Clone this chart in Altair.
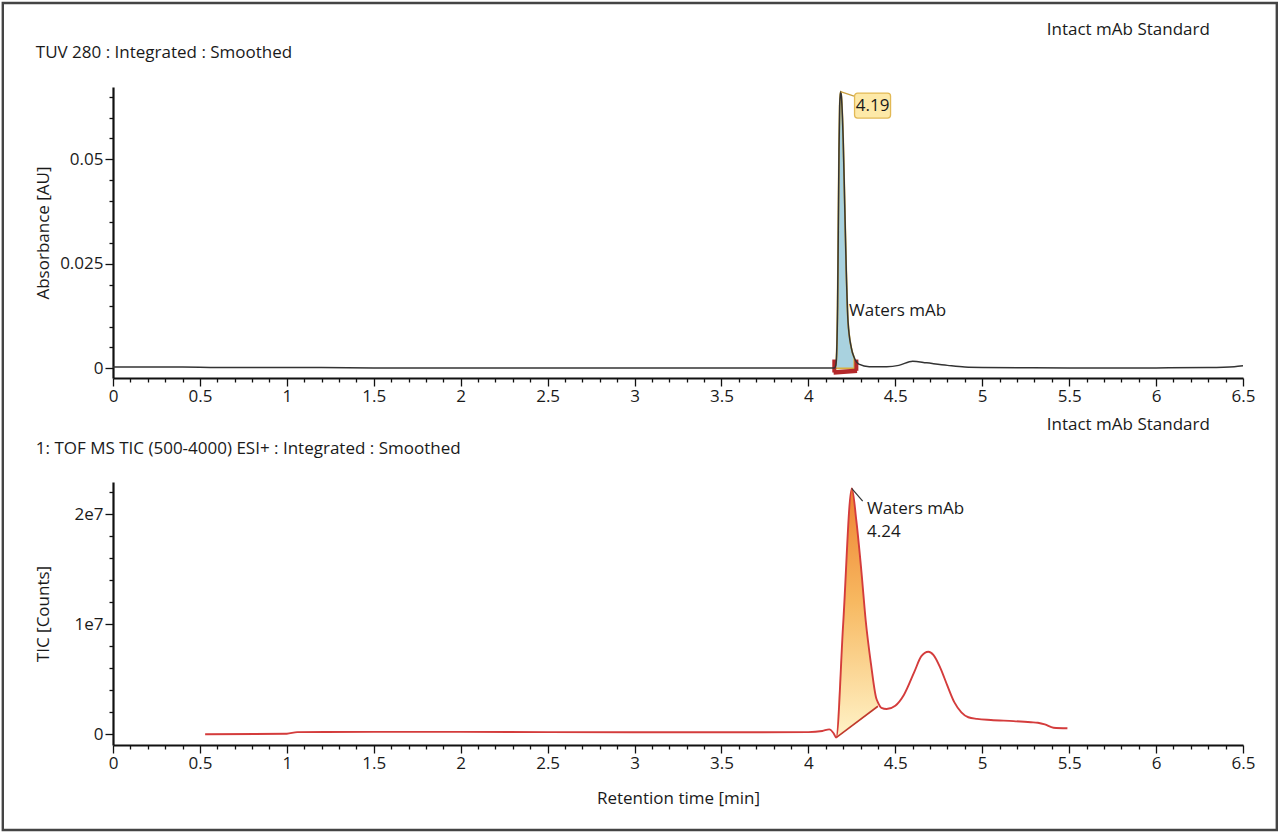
import altair as alt
import pandas as pd

FONT = "Open Sans"
FS = 17

# ---------------- data ----------------
uv_time = [0.0, 0.2, 0.4, 0.6, 1.0, 1.5, 2.0, 2.5, 3.0, 3.5, 3.9, 4.1, 4.15,
           4.158, 4.163, 4.168, 4.172, 4.176, 4.180, 4.185, 4.190, 4.196,
           4.200, 4.209, 4.218, 4.228, 4.247, 4.264, 4.29, 4.35, 4.45, 4.52,
           4.6, 4.68, 4.8, 4.9, 5.0, 5.5, 6.0, 6.3, 6.45, 6.5]
uv_abs = [0.0003, 0.0003, 0.0003, 0.0002, 0.0002, 0.0001, 0.0001, 0.0001,
          0.0001, 0.0001, 0.0001, 0.0001, 0.0001,
          0.0008, 0.004, 0.015, 0.033, 0.052, 0.0628, 0.0662, 0.0650, 0.060,
          0.0551, 0.0392, 0.0232, 0.0112, 0.0049, 0.0025, 0.0010, 0.0004,
          0.0004, 0.0007, 0.0017, 0.0013, 0.0007, 0.0003, 0.0002, 0.0001,
          0.0001, 0.0002, 0.0004, 0.0006]

tic_time = [0.53, 1.00, 1.06, 1.5, 2.0, 2.5, 3.0, 3.5, 4.0, 4.08, 4.12, 4.145,
            4.16, 4.2, 4.25, 4.276, 4.305, 4.33, 4.36, 4.39, 4.40, 4.42, 4.45,
            4.50, 4.55, 4.61, 4.65, 4.69, 4.72, 4.76, 4.80, 4.84, 4.88, 4.92,
            4.97, 5.05, 5.18, 5.28, 5.32, 5.36, 5.41, 5.49]
tic_e7 = [0.0, 0.005, 0.02, 0.022, 0.022, 0.02, 0.018, 0.018, 0.02, 0.03,
          0.045, 0.01, -0.03, 1.0, 2.236, 1.94, 1.48, 1.03, 0.64, 0.33, 0.29,
          0.24, 0.23, 0.26, 0.36, 0.57, 0.71, 0.75, 0.72, 0.60, 0.44, 0.29,
          0.20, 0.155, 0.14, 0.13, 0.12, 0.11, 0.105, 0.09, 0.06, 0.055]
tic_counts = [v * 1e7 for v in tic_e7]

x_ticks = [round(i * 0.1, 1) for i in range(66)]
uv_ticks = [round(i * 0.005, 3) for i in range(14)]
tic_ticks = [i * 2e6 for i in range(12)]

uv_peak = {"t": 4.185, "a": 0.0662, "label": "4.19", "name": "Waters mAb"}
uv_int = {"t0": 4.150, "t1": 4.270}
uv_mark = {"t0": 4.145, "t1": 4.28, "b0": -0.0010, "b1": -0.0006, "top": 0.0021}
tic_peak = {"t": 4.249, "c": 2.236e7, "label": "4.24", "name": "Waters mAb"}
tic_base = {"t0": 4.16, "b0": -0.03e7, "t1": 4.40, "b1": 0.255e7}

W = 1130
H1, H2 = 291, 263
X_DOM = [0, 6.5]
UV_DOM = [-0.00232, 0.0673]
TIC_DOM = [-0.0973e7, 2.2936e7]

uv_df = pd.DataFrame({"t": uv_time, "a": uv_abs})
tic_df = pd.DataFrame({"t": tic_time, "c": tic_counts})
one = pd.DataFrame({"k": [0]})

# integer tests for major ticks (avoid floating point trouble)
X_MAJOR = "round(datum.value * 10) % 5 == 0"
UV_MAJOR = "round(datum.value * 1000) % 25 == 0"
TIC_MAJOR = "round(datum.value / 1000000) % 10 == 0"


def cond(test, major_val, minor_val):
    return {"condition": {"test": test, "value": major_val}, "value": minor_val}


common_axis = dict(
    grid=False, domainColor="#111", domainWidth=2.2, tickColor="#111",
    tickWidth=1.3, labelFont=FONT, labelColor="#1a1a1a",
    labelOverlap=False, labelFlush=False, titleFont=FONT, titleFontSize=FS,
    titleColor="#1a1a1a", titleFontWeight="normal",
)


def x_axis(title):
    kw = dict(common_axis)
    kw.update(values=x_ticks, tickSize=cond(X_MAJOR, 8, 4), labelPadding=2,
              labelFontSize=cond(X_MAJOR, FS, 1),
              labelExpr=f"{X_MAJOR} ? format(datum.value, '.1~f') : ''")
    if title:
        kw.update(title=title, titleY=53, titleBaseline="middle")
    else:
        kw.update(title=None)
    return alt.Axis(**kw)


X1 = alt.X("t:Q", scale=alt.Scale(domain=X_DOM, nice=False, zero=False), axis=x_axis(None))
X2 = alt.X("t:Q", scale=alt.Scale(domain=X_DOM, nice=False, zero=False),
           axis=x_axis("Retention time [min]"))

uv_axis = dict(common_axis)
uv_axis.update(values=uv_ticks, tickSize=cond(UV_MAJOR, 8, 4), labelPadding=2,
               labelFontSize=cond(UV_MAJOR, FS, 1),
               labelExpr=f"{UV_MAJOR} ? format(datum.value, '.3~f') : ''",
               title="Absorbance [AU]", titleX=-70, titleY=H1 / 2,
               titleBaseline="middle")
Y1 = alt.Y("a:Q", scale=alt.Scale(domain=UV_DOM, nice=False, zero=False), axis=alt.Axis(**uv_axis))

tic_axis = dict(common_axis)
tic_axis.update(values=tic_ticks, tickSize=cond(TIC_MAJOR, 8, 4), labelPadding=2,
                labelFontSize=cond(TIC_MAJOR, FS, 1),
                labelExpr=f"{TIC_MAJOR} ? (datum.value == 0 ? '0' : format(datum.value/1e7, 'd') + 'e7') : ''",
                title="TIC [Counts]", titleX=-70, titleY=H2 / 2,
                titleBaseline="middle")
Y2 = alt.Y("c:Q", scale=alt.Scale(domain=TIC_DOM, nice=False, zero=False), axis=alt.Axis(**tic_axis))


def txt(s, x, y, size=FS):
    return alt.Chart(one).mark_text(text=s, align="left", baseline="middle", font=FONT,
                                    fontSize=size, color="#1a1a1a").encode(
        x=alt.value(x), y=alt.value(y))


# ---------------- top panel ----------------
frame = alt.Chart(one).mark_rect(filled=False, stroke="#444", strokeWidth=2.4).encode(
    x=alt.value(-110.2), x2=alt.value(1163.8), y=alt.value(-84), y2=alt.value(743))

uv_base = alt.Chart(uv_df)
uv_fill = uv_base.transform_filter(
    f"datum.t >= {uv_int['t0']} && datum.t <= {uv_int['t1']}"
).mark_area(interpolate="monotone", fill="#a9d2df", stroke="#d9b03e", strokeWidth=1.8).encode(
    x=X1, y=Y1, y2=alt.datum(0))
uv_line = uv_base.mark_line(interpolate="monotone", color="#333333", strokeWidth=1.5).encode(x=X1, y=Y1)

mark_df = pd.DataFrame({"t": [uv_mark["t0"]], "t2": [uv_mark["t1"]],
                        "a": [uv_mark["b0"]], "a2": [uv_mark["b1"]]})
red_base = alt.Chart(mark_df).mark_rule(color="#b3282a", strokeWidth=4.5).encode(
    x=X1, x2="t2:Q", y=Y1, y2="a2:Q")
ends_df = pd.DataFrame({"t": [uv_mark["t0"] + 0.004, uv_mark["t1"] - 0.004],
                        "a": [uv_mark["b0"], uv_mark["b1"]],
                        "a2": [uv_mark["top"], uv_mark["top"]]})
red_ends = alt.Chart(ends_df).mark_rule(color="#b3282a", strokeWidth=4).encode(
    x=X1, y=Y1, y2="a2:Q")

pk1 = pd.DataFrame([uv_peak])
lead1 = alt.Chart(pk1).mark_rule(color="#c9a040", strokeWidth=1.3, x2Offset=13.5, y2Offset=4.5).encode(
    x=X1, x2="t:Q", y=Y1, y2="a:Q")
box1 = alt.Chart(pk1).mark_rect(width=36, height=25, xOffset=32, yOffset=14, fill="#fde9a8",
                                 stroke="#e2b955", strokeWidth=1.3, cornerRadius=3).encode(x=X1, y=Y1)
lab1 = alt.Chart(pk1).mark_text(dx=32, dy=14, font=FONT, fontSize=FS, color="#1a1a1a",
                                 align="center", baseline="middle").encode(x=X1, y=Y1, text="label:N")
name1 = alt.Chart(pk1).mark_text(dx=8.5, dy=219.5, font=FONT, fontSize=FS, color="#1a1a1a",
                                  align="left", baseline="middle").encode(x=X1, y=Y1, text="name:N")

top = alt.layer(
    frame,
    txt("TUV 280 : Integrated : Smoothed", -77.2, -34),
    txt("Intact mAb Standard", 933.8, -57),
    uv_fill, red_base, red_ends, uv_line, lead1, box1, lab1, name1,
).properties(width=W, height=H1)

# ---------------- bottom panel ----------------
slope = (tic_base["b1"] - tic_base["b0"]) / (tic_base["t1"] - tic_base["t0"])
tic_base_chart = alt.Chart(tic_df)
tic_fill = tic_base_chart.transform_filter(
    f"datum.t >= {tic_base['t0']} && datum.t <= {tic_base['t1']}"
).transform_calculate(
    b=f"{tic_base['b0']} + (datum.t - {tic_base['t0']}) * {slope}"
).mark_area(interpolate="monotone", color=alt.Gradient(
    gradient="linear",
    stops=[alt.GradientStop(color="#ee8030", offset=0),
           alt.GradientStop(color="#f7b860", offset=0.45),
           alt.GradientStop(color="#fff3c8", offset=1)],
    x1=0, x2=0, y1=0, y2=1)).encode(x=X2, y=Y2, y2="b:Q")

bl_df = pd.DataFrame({"t": [tic_base["t0"]], "t2": [tic_base["t1"]],
                      "c": [tic_base["b0"]], "c2": [tic_base["b1"]]})
tic_bline = alt.Chart(bl_df).mark_rule(color="#c0392b", strokeWidth=1.6).encode(
    x=X2, x2="t2:Q", y=Y2, y2="c2:Q")
tic_line = tic_base_chart.mark_line(interpolate="monotone", color="#d43c3c", strokeWidth=1.9).encode(x=X2, y=Y2)

pk2 = pd.DataFrame([tic_peak])
lead2 = alt.Chart(pk2).mark_rule(color="#333", strokeWidth=1.2, x2Offset=11, y2Offset=12.7).encode(
    x=X2, x2="t:Q", y=Y2, y2="c:Q")
name2 = alt.Chart(pk2).mark_text(dx=15.3, dy=20.7, font=FONT, fontSize=FS, color="#1a1a1a",
                                  align="left", baseline="middle").encode(x=X2, y=Y2, text="name:N")
lab2 = alt.Chart(pk2).mark_text(dx=15.3, dy=43.7, font=FONT, fontSize=FS, color="#1a1a1a",
                                 align="left", baseline="middle").encode(x=X2, y=Y2, text="label:N")

bottom = alt.layer(
    txt("1: TOF MS TIC (500-4000) ESI+ : Integrated : Smoothed", -77.2, -33),
    txt("Intact mAb Standard", 933.8, -57),
    tic_fill, tic_bline, tic_line, lead2, name2, lab2,
).properties(width=W, height=H2)

chart = alt.vconcat(top, bottom, spacing=104, bounds="flush").properties(
    padding={"left": 1, "top": 1, "right": 0, "bottom": 0},
    background="white",
).configure_view(stroke=None)

chart.save("out.html", embed_options={"renderer": "svg", "actions": False})
